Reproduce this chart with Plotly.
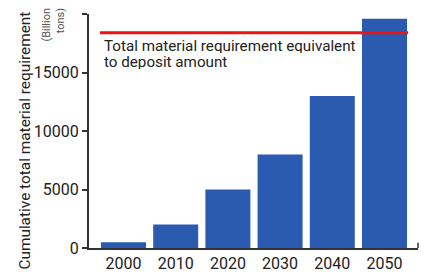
import plotly.graph_objects as go

years = ["2000", "2010", "2020", "2030", "2040", "2050"]
requirement = [500, 2000, 5000, 8000, 13000, 19600]
deposit_level = 18400
deposit_span = [-0.45, 5.45]
y_ticks = [0, 5000, 10000, 15000, 20000]
y_tick_text = ["0", "5000", "10000", "15000", ""]
label_line1 = "Total material requirement equivalent"
label_line2 = "to deposit amount"
y_title = "Cumulative total material requirement"
unit_text = "(Billion<br>tons)"

FONT = "Roboto"
X_RANGE = [-0.661, 5.642]

fig = go.Figure()
fig.add_trace(go.Bar(x=years, y=requirement, marker=dict(color="#2B5BB0", line=dict(width=0)),
                     showlegend=False, hoverinfo="skip"))
fig.add_trace(go.Scatter(x=deposit_span, y=[deposit_level, deposit_level], mode="lines",
                         line=dict(color="#F21212", width=3), showlegend=False, xaxis="x2",
                         hoverinfo="skip"))

fig.add_annotation(x=0.043, xref="paper", y=0.863, yref="paper", text=label_line1,
                   showarrow=False, xanchor="left", yanchor="middle", height=14, borderpad=0,
                   font=dict(family=FONT, size=15.2, color="#222"))
fig.add_annotation(x=0.043, xref="paper", y=0.797, yref="paper", text=label_line2,
                   showarrow=False, xanchor="left", yanchor="middle", height=14, borderpad=0,
                   font=dict(family=FONT, size=15.2, color="#222"))
fig.add_annotation(x=-0.1945, xref="paper", y=0.459, yref="paper", text=y_title,
                   showarrow=False, textangle=-90, xanchor="center", yanchor="middle",
                   font=dict(family=FONT, size=15.4, color="#222"))
fig.add_annotation(x=-0.107, xref="paper", y=1.035, yref="paper", yanchor="top", xanchor="center",
                   text=unit_text, showarrow=False, textangle=-90, align="right",
                   font=dict(family=FONT, size=11, color="#555"))
# small end tick of the x axis line
fig.add_shape(type="line", xref="paper", yref="paper", x0=1, x1=1, y0=0, y1=0.022,
              line=dict(color="#333", width=1.5))

fig.update_layout(
    width=424, height=272,
    margin=dict(l=89, r=6, t=14, b=24),
    plot_bgcolor="white", paper_bgcolor="white",
    bargap=0.138,
    font=dict(family=FONT, size=16, color="#222"),
    xaxis=dict(type="category", range=X_RANGE, showline=True, linecolor="#333", linewidth=2,
               ticks="", tickfont=dict(size=16, color="#222"), fixedrange=True, automargin=False),
    xaxis2=dict(range=X_RANGE, overlaying="x", anchor="y", visible=False),
    yaxis=dict(range=[0, 20000], tickvals=y_ticks, ticktext=y_tick_text, showline=True,
               linecolor="#333", linewidth=2, ticks="outside", ticklen=5, tickwidth=1.5,
               tickcolor="#333", showgrid=False, zeroline=False, automargin=False,
               tickfont=dict(size=16, color="#222")),
)
fig.write_html("out.html", config={"displayModeBar": False},
               post_script="document.body.style.margin='0';")
